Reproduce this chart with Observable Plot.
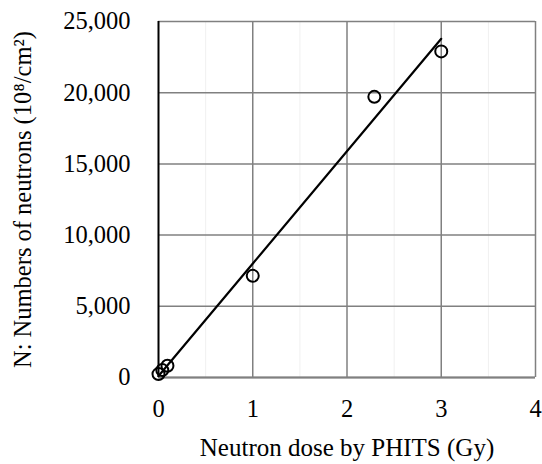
<!DOCTYPE html>
<html>
<head>
<meta charset="utf-8">
<script src="https://cdn.jsdelivr.net/npm/d3@7"></script>
<script src="https://cdn.jsdelivr.net/npm/@observablehq/plot@0.6"></script>
<style>
  body { margin: 0; background: #fff; }
</style>
</head>
<body>
<div id="chart"></div>
<script>
const doseGy = [0.0, 0.04, 0.095, 1.0, 2.29, 3.0];
const neutrons = [240, 520, 820, 7140, 19710, 22900];
const xTicks = [0, 1, 2, 3, 4];
const yTicks = [0, 5000, 10000, 15000, 20000, 25000];
const xMinor = [0.5, 1.5, 2.5, 3.5];
const xLabel = "Neutron dose by PHITS (Gy)";
const yLabel = "N: Numbers of neutrons (10⁸/cm²)";

const data = doseGy.map((d, i) => ({dose: d, n: neutrons[i]}));

const chart = Plot.plot({
  width: 542,
  height: 464,
  marginLeft: 158,
  marginRight: 7,
  marginTop: 21,
  marginBottom: 87,
  style: {fontFamily: "'Liberation Serif', 'Times New Roman', serif", fontSize: "24.5px", color: "#000", background: "#fff"},
  x: {domain: [0, 4]},
  y: {domain: [0, 25000]},
  marks: [
    Plot.ruleX(xMinor, {stroke: "#f0f0f0", strokeWidth: 1}),
    Plot.ruleX(xTicks.slice(1), {stroke: "#808080", strokeWidth: 1.5}),
    Plot.ruleY(yTicks, {stroke: "#808080", strokeWidth: 1.5}),
    Plot.ruleY([0], {stroke: "#808080", strokeWidth: 2.2}),
    Plot.ruleX([0], {stroke: "#000", strokeWidth: 2}),
    Plot.axisX(xTicks, {tickSize: 0, tickPadding: 22, tickFormat: d => d, fontSize: 24.5, label: null}),
    Plot.text([xLabel], {frameAnchor: "bottom", dy: 70, lineAnchor: "middle", fontSize: 25, fill: "#000"}),
    Plot.axisY(yTicks, {tickSize: 0, tickPadding: 28, tickFormat: d3.format(","), fontSize: 24.5,
      label: yLabel, labelAnchor: "center", labelArrow: "none", labelOffset: 145}),
    Plot.linearRegressionY(data, {x: "dose", y: "n", stroke: "#000", strokeWidth: 2.2, ci: 0}),
    Plot.dot(data, {x: "dose", y: "n", r: 6, stroke: "#000", strokeWidth: 2, fill: "none"})
  ]
});
document.getElementById("chart").append(chart);
</script>
</body>
</html>
